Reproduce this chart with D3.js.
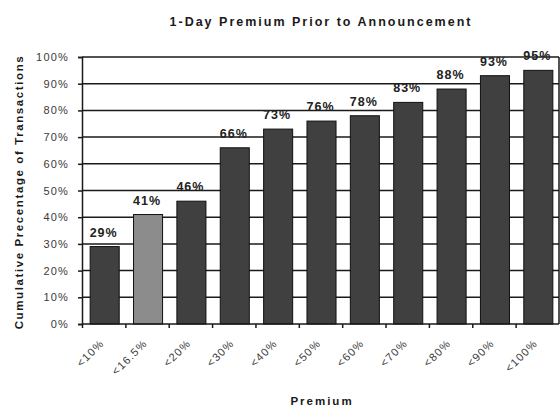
<!DOCTYPE html>
<html><head><meta charset="utf-8">
<script src="https://cdn.jsdelivr.net/npm/d3@7"></script>
<style>body{margin:0;background:#fff}svg{display:block;font-family:Arial,"Liberation Sans",sans-serif}</style>
</head><body>
<script>
const categories = ["<10%","<16.5%","<20%","<30%","<40%","<50%","<60%","<70%","<80%","<90%","<100%"];
const values = [29,41,46,66,73,76,78,83,88,93,95];
const labels = ["29%","41%","46%","66%","73%","76%","78%","83%","88%","93%","95%"];
const highlight = ["<16.5%"];
const yTicks = [0,10,20,30,40,50,60,70,80,90,100];
const title = "1-Day Premium Prior to Announcement";
const yTitle = "Cumulative Precentage of Transactions";
const xTitle = "Premium";

const W=560,H=407;
const m={left:82,right:1,top:57,bottom:83};
const svg=d3.select("body").append("svg").attr("width",W).attr("height",H);
const x=d3.scaleBand().domain(categories).range([m.left,W-m.right]).paddingInner(0.33).paddingOuter(0.165);
const y=d3.scaleLinear().domain([0,100]).range([H-m.bottom,m.top]);

// gridlines
svg.append("g").selectAll("line").data(yTicks.filter(d=>d>0)).join("line")
 .attr("x1",m.left).attr("x2",W-m.right).attr("y1",d=>y(d)).attr("y2",d=>y(d))
 .attr("stroke","#1a1a1a").attr("stroke-width",1.5);

// bars
svg.append("g").selectAll("rect").data(values).join("rect")
 .attr("x",(d,i)=>x(categories[i])+1).attr("width",x.bandwidth())
 .attr("y",d=>y(d)).attr("height",d=>y(0)-y(d))
 .attr("fill",(d,i)=>highlight.includes(categories[i])?"#8c8c8c":"#404040")
 .attr("stroke","#111").attr("stroke-width",1);

// value labels
svg.append("g").selectAll("text").data(values).join("text")
 .attr("x",(d,i)=>x(categories[i])+x.bandwidth()/2).attr("y",d=>y(d)-10)
 .attr("text-anchor","middle").attr("font-size",12.5).attr("font-weight","bold")
 .attr("letter-spacing",1).attr("fill","#222").text((d,i)=>labels[i]);

// y axis
const yAxis=svg.append("g").attr("transform",`translate(${m.left},0)`)
 .call(d3.axisLeft(y).tickValues(yTicks).tickFormat(d=>d+"%").tickSize(4).tickPadding(9));
yAxis.select(".domain").attr("stroke","#1a1a1a").attr("stroke-width",1.5);
yAxis.selectAll(".tick line").attr("stroke","#1a1a1a").attr("stroke-width",1.5);
yAxis.selectAll("text").attr("font-size",11).attr("letter-spacing",1.2).attr("fill","#3a3a3a").attr("font-family","Arial, Liberation Sans, sans-serif");

// x axis baseline and ticks between categories
const xb=svg.append("g");
xb.append("line").attr("x1",m.left).attr("x2",W-m.right).attr("y1",y(0)).attr("y2",y(0)).attr("stroke","#1a1a1a").attr("stroke-width",1.5);
const step=x.step();
xb.selectAll("line.t").data(categories).join("line").attr("class","t")
 .attr("x1",(d)=>x(d)-x.paddingInner()*step/2+0.5).attr("x2",(d)=>x(d)-x.paddingInner()*step/2+0.5)
 .attr("y1",y(0)).attr("y2",y(0)+4).attr("stroke","#1a1a1a").attr("stroke-width",1.5);
xb.selectAll("text").data(categories).join("text")
 .attr("transform",d=>`translate(${x(d)+x.bandwidth()/2+1},${y(0)+20}) rotate(-45)`)
 .attr("text-anchor","end").attr("font-size",11).attr("letter-spacing",1.2).attr("fill","#3a3a3a").text(d=>d);

// right border
svg.append("line").attr("x1",W-m.right).attr("x2",W-m.right).attr("y1",y(100)).attr("y2",y(0)).attr("stroke","#1a1a1a").attr("stroke-width",1.5);

// titles
svg.append("text").attr("x",321).attr("y",26).attr("text-anchor","middle").attr("font-size",12.5).attr("font-weight","bold").attr("letter-spacing",2).attr("fill","#1a1a1a").text(title);
svg.append("text").attr("transform",`translate(23,192) rotate(-90)`).attr("text-anchor","middle").attr("font-size",11.5).attr("font-weight","bold").attr("letter-spacing",1.6).attr("fill","#1a1a1a").text(yTitle);
svg.append("text").attr("x",322).attr("y",405).attr("text-anchor","middle").attr("font-size",11.5).attr("font-weight","bold").attr("letter-spacing",2).attr("fill","#1a1a1a").text(xTitle);
</script>
</body></html>
